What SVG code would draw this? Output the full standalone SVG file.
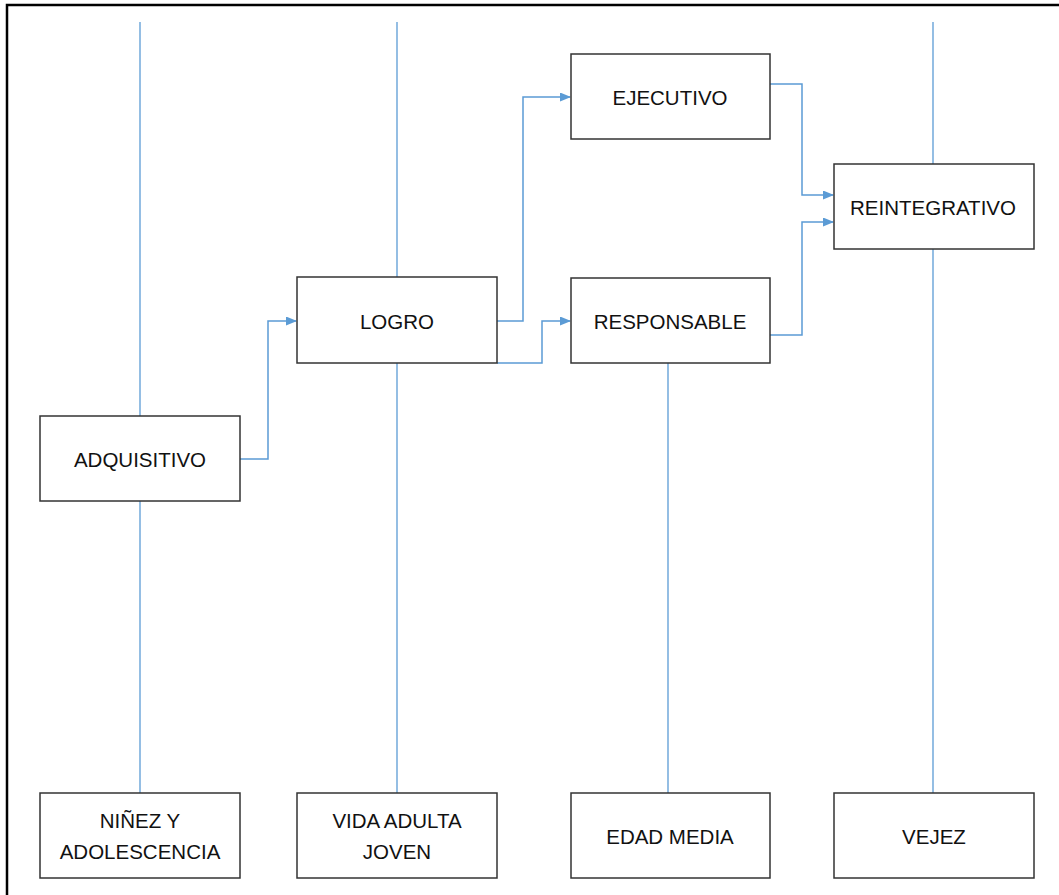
<svg xmlns="http://www.w3.org/2000/svg" width="1059" height="895" viewBox="0 0 1059 895">
<defs>
<marker id="arr" markerWidth="11" markerHeight="9" refX="10" refY="4.5" orient="auto" markerUnits="userSpaceOnUse">
<path d="M0,0 L11,4.5 L0,9 Z" fill="#5B9BD5"/>
</marker>
<style>
.box{fill:#fff;stroke:#333;stroke-width:1.5}
.t{font-family:"Liberation Sans",Arial,sans-serif;font-size:20.5px;fill:#111;text-anchor:middle}
.v{stroke:#5B9BD5;stroke-width:1.3;fill:none}
.c{stroke:#5B9BD5;stroke-width:1.5;fill:none}
</style>
</defs>
<rect x="0" y="0" width="1059" height="895" fill="#fff"/>
<path d="M7,900 L7,5 L1065,5" fill="none" stroke="#000" stroke-width="2.5"/>
<g id="lifelines">
<line class="v" x1="140" y1="22" x2="140" y2="416"/>
<line class="v" x1="140" y1="501" x2="140" y2="793"/>
<line class="v" x1="397" y1="22" x2="397" y2="277"/>
<line class="v" x1="397" y1="363" x2="397" y2="793"/>
<line class="v" x1="668" y1="363" x2="668" y2="793"/>
<line class="v" x1="933" y1="22" x2="933" y2="164"/>
<line class="v" x1="933" y1="249" x2="933" y2="793"/>
</g>
<g id="connectors">
<polyline class="c" points="240,459 268,459 268,321 296,321" marker-end="url(#arr)"/>
<polyline class="c" points="497,321 523,321 523,97 570,97" marker-end="url(#arr)"/>
<polyline class="c" points="497,363 542,363 542,321 570,321" marker-end="url(#arr)"/>
<polyline class="c" points="770,84 802,84 802,195 833,195" marker-end="url(#arr)"/>
<polyline class="c" points="770,335 802,335 802,222 833,222" marker-end="url(#arr)"/>
</g>
<g id="adquisitivo"><rect class="box" x="40" y="416" width="200" height="85"/><text class="t" x="140" y="467">ADQUISITIVO</text></g>
<g id="logro"><rect class="box" x="297" y="277" width="200" height="86"/><text class="t" x="397" y="329">LOGRO</text></g>
<g id="ejecutivo"><rect class="box" x="571" y="54" width="199" height="85"/><text class="t" x="670" y="105">EJECUTIVO</text></g>
<g id="responsable"><rect class="box" x="571" y="278" width="199" height="85"/><text class="t" x="670" y="329">RESPONSABLE</text></g>
<g id="reintegrativo"><rect class="box" x="834" y="164" width="200" height="85"/><text class="t" x="933" y="215">REINTEGRATIVO</text></g>
<g id="ninez"><rect class="box" x="40" y="793" width="200" height="85"/><text class="t" x="140" y="828">NIÑEZ Y</text><text class="t" x="140" y="859">ADOLESCENCIA</text></g>
<g id="vida"><rect class="box" x="297" y="793" width="200" height="85"/><text class="t" x="397" y="828">VIDA ADULTA</text><text class="t" x="397" y="859">JOVEN</text></g>
<g id="edad"><rect class="box" x="571" y="793" width="199" height="85"/><text class="t" x="670" y="844">EDAD MEDIA</text></g>
<g id="vejez"><rect class="box" x="834" y="793" width="200" height="85"/><text class="t" x="934" y="844">VEJEZ</text></g>
</svg>
